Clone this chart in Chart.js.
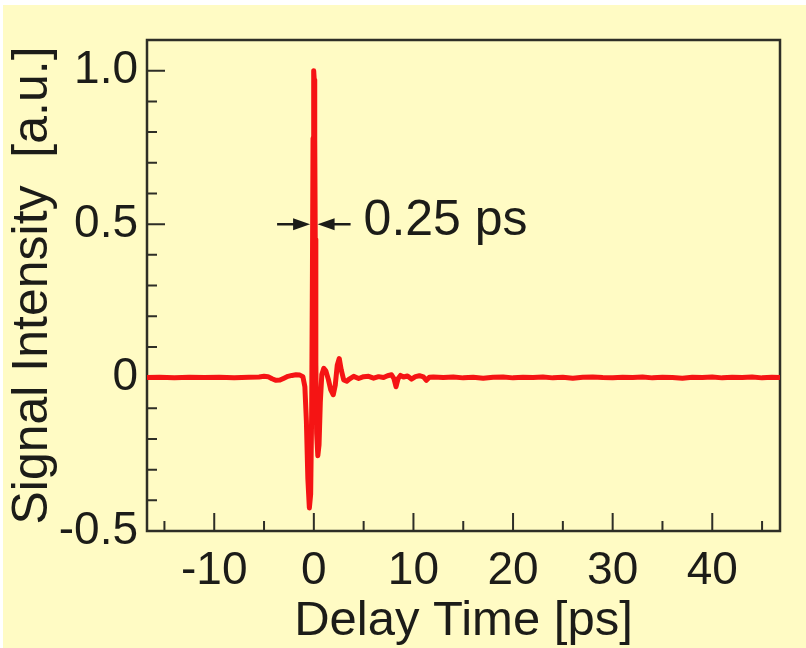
<!DOCTYPE html>
<html>
<head>
<meta charset="utf-8">
<title>Signal Intensity vs Delay Time</title>
<script src="https://cdn.jsdelivr.net/npm/chart.js@4.4.1/dist/chart.umd.min.js"></script>
<style>
    html, body { margin: 0; padding: 0; background: #fff; }
    #wrap { width: 806px; height: 648px; }
</style>
</head>
<body>
<div id="wrap"><canvas id="pulseChart" width="806" height="648"></canvas></div>
<script>
// Measured trace: delay time (ps) and normalised signal (a.u.)
const delayTime = [
    -16.75, -15.5, -14.0, -12.5, -11.0, -9.5, -8.0, -6.5, -5.5, -5.0,
    -4.6, -4.2, -3.8, -3.4, -3.0, -2.6, -2.2, -1.8, -1.4, -1.1,
    -0.9, -0.75, -0.6, -0.45, -0.32, -0.22, -0.14, -0.08, -0.03, 0.0,
    0.04, 0.09, 0.14, 0.2, 0.28, 0.4, 0.52, 0.65, 0.8, 1.0,
    1.2, 1.45, 1.7, 1.95, 2.15, 2.35, 2.55, 2.75, 3.0, 3.3,
    3.6, 4.0, 4.5, 5.0, 5.5, 6.0, 6.5, 7.0, 7.4, 7.8,
    8.05, 8.25, 8.45, 8.7, 9.0, 9.4, 9.8, 10.2, 10.6, 11.0,
    11.3, 11.6, 12, 13, 14, 15, 16, 17, 18, 19,
    20, 21, 22, 23, 24, 25, 26, 27, 28, 29,
    30, 31, 32, 33, 34, 35, 36, 37, 38, 39,
    40, 41, 42, 43, 44, 45, 46, 46.8
];
const signal = [
    0.000, 0.001, -0.001, 0.001, 0.000, 0.001, -0.001, 0.001, 0.002, 0.004,
    0.003, -0.004, -0.009, -0.008, -0.002, 0.004, 0.007, 0.009, 0.008, 0.003,
    -0.03, -0.14, -0.33, -0.425, -0.38, -0.12, 0.35, 0.78, 0.98, 1.0,
    0.97, 0.78, 0.45, 0.05, -0.18, -0.255, -0.22, -0.08, 0.01, 0.03,
    0.022, -0.005, -0.04, -0.056, -0.025, 0.04, 0.062, 0.025, -0.008, -0.012,
    -0.004, 0.004, -0.003, 0.003, 0.004, -0.002, 0.003, 0.000, 0.006, 0.009,
    -0.004, -0.03, -0.004, 0.007, 0.002, 0.005, -0.005, 0.003, 0.006, 0.002,
    -0.009, 0.001, 0.002, 0.000, 0.002, -0.001, 0.001, -0.002, 0.001, 0.002,
    -0.001, 0.001, 0.000, 0.002, -0.001, 0.001, -0.002, 0.001, 0.002, 0.000,
    -0.001, 0.001, 0.000, 0.002, -0.001, 0.001, 0.000, -0.002, 0.001, 0.000,
    0.002, -0.001, 0.001, 0.000, 0.002, -0.001, 0.001, 0.000
];

const xMajorTicks = [-10, 0, 10, 20, 30, 40];
const xMinorTicks = [-15, -5, 5, 15, 25, 35, 45];
const yMajorTicks = [-0.5, 0, 0.5, 1.0];
const yTickLabels = ['-0.5', '0', '0.5', '1.0'];
const yMinorTicks = [-0.4, -0.3, -0.2, -0.1, 0.1, 0.2, 0.3, 0.4, 0.6, 0.7, 0.8, 0.9];

// pulse width marker (FWHM) drawn at half maximum
const pulseCentre = 0;
const pulseHalfMax = 0.5;
const pulseWidth = 0.25;
const pulseLabel = '0.25 ps';

const FONT = "'Liberation Sans', Arial, Helvetica, sans-serif";
const INK = '#1c1c18';
const FRAME = '#2e2e26';
const TRACE_WIDTH = 5;

// Paper background (slight white margin along top/left edge)
const paper = {
    id: 'paper',
    beforeDraw(chart) {
        const ctx = chart.ctx;
        ctx.save();
        ctx.fillStyle = '#ffffff';
        ctx.fillRect(0, 0, chart.width, chart.height);
        ctx.fillStyle = '#fffbc4';
        ctx.fillRect(3, 5, chart.width - 3, chart.height - 5);
        ctx.restore();
    }
};

// Box frame with inward tick marks
const frameTicks = {
    id: 'frameTicks',
    beforeDatasetsDraw(chart) {
        const { ctx, chartArea: a, scales: { x, y } } = chart;
        ctx.save();
        ctx.strokeStyle = FRAME;
        ctx.lineWidth = 2.5;
        ctx.strokeRect(a.left, a.top, a.right - a.left, a.bottom - a.top);

        ctx.lineWidth = 2;
        ctx.beginPath();
        xMajorTicks.forEach(function(v) {
            const px = x.getPixelForValue(v);
            ctx.moveTo(px, a.bottom);
            ctx.lineTo(px, a.bottom - 18);
        });
        xMinorTicks.forEach(function(v) {
            const px = x.getPixelForValue(v);
            ctx.moveTo(px, a.bottom);
            ctx.lineTo(px, a.bottom - 10);
        });
        yMajorTicks.forEach(function(v) {
            if (v <= y.min) return;
            const py = y.getPixelForValue(v);
            ctx.moveTo(a.left, py);
            ctx.lineTo(a.left + 18, py);
        });
        yMinorTicks.forEach(function(v) {
            const py = y.getPixelForValue(v);
            ctx.moveTo(a.left, py);
            ctx.lineTo(a.left + 10, py);
        });
        ctx.stroke();
        ctx.restore();
    }
};

// Double arrow marking the pulse width, plus its label
const widthMarker = {
    id: 'widthMarker',
    afterDatasetsDraw(chart) {
        const { ctx, scales: { x, y } } = chart;
        const py = y.getPixelForValue(pulseHalfMax);
        // arrow tips touch the outer edges of the stroked trace
        const leftTip = x.getPixelForValue(pulseCentre - pulseWidth / 2) - TRACE_WIDTH / 2;
        const rightTip = x.getPixelForValue(pulseCentre + pulseWidth / 2) + TRACE_WIDTH / 2;
        const shaft = 33, head = 17, half = 6;

        ctx.save();
        ctx.strokeStyle = INK;
        ctx.fillStyle = INK;
        ctx.lineWidth = 2.5;

        ctx.beginPath();
        ctx.moveTo(leftTip - shaft, py);
        ctx.lineTo(leftTip - head + 2, py);
        ctx.moveTo(rightTip + head - 2, py);
        ctx.lineTo(rightTip + shaft, py);
        ctx.stroke();

        ctx.beginPath();
        ctx.moveTo(leftTip, py);
        ctx.lineTo(leftTip - head, py - half);
        ctx.lineTo(leftTip - head, py + half);
        ctx.closePath();
        ctx.moveTo(rightTip, py);
        ctx.lineTo(rightTip + head, py - half);
        ctx.lineTo(rightTip + head, py + half);
        ctx.closePath();
        ctx.fill();

        ctx.font = '50px ' + FONT;
        ctx.textAlign = 'left';
        ctx.textBaseline = 'alphabetic';
        ctx.fillText(pulseLabel, rightTip + shaft + 13, py + 11);
        ctx.restore();
    }
};

const points = delayTime.map(function(t, i) {
    return { x: t, y: signal[i] };
});

const ctx = document.getElementById('pulseChart').getContext('2d');
const pulseChart = new Chart(ctx, {
    type: 'line',
    data: {
        datasets: [{
            data: points,
            borderColor: '#f51414',
            borderWidth: TRACE_WIDTH,
            borderJoinStyle: 'round',
            pointRadius: 0,
            tension: 0,
            fill: false
        }]
    },
    options: {
        responsive: false,
        animation: false,
        layout: {
            padding: { top: 40, right: 26, left: 0, bottom: 0 }
        },
        plugins: {
            legend: { display: false },
            tooltip: { enabled: false }
        },
        scales: {
            x: {
                type: 'linear',
                min: -16.75,
                max: 46.8,
                grid: { display: false, drawTicks: false },
                border: { display: false },
                afterBuildTicks: function(scale) {
                    scale.ticks = xMajorTicks.map(function(v) { return { value: v }; });
                },
                afterFit: function(scale) {
                    scale.height = 117;
                },
                ticks: {
                    padding: 13,
                    color: INK,
                    maxRotation: 0,
                    autoSkip: false,
                    font: { family: FONT, size: 46 },
                    callback: function(value) { return String(value); }
                },
                title: {
                    display: true,
                    text: 'Delay Time [ps]',
                    color: INK,
                    font: { family: FONT, size: 49, lineHeight: 1.0 },
                    padding: { top: 0, bottom: 2 }
                }
            },
            y: {
                min: -0.5,
                max: 1.1,
                grid: { display: false, drawTicks: false },
                border: { display: false },
                afterBuildTicks: function(scale) {
                    scale.ticks = yMajorTicks.map(function(v) { return { value: v }; });
                },
                afterFit: function(scale) {
                    scale.width = 147;
                },
                ticks: {
                    padding: 9,
                    color: INK,
                    autoSkip: false,
                    font: { family: FONT, size: 46 },
                    callback: function(value) {
                        return yTickLabels[yMajorTicks.indexOf(value)];
                    }
                },
                title: {
                    display: true,
                    text: 'Signal Intensity  [a.u.]',
                    color: INK,
                    font: { family: FONT, size: 50, lineHeight: 1.0 },
                    padding: { top: 8, bottom: 0 }
                }
            }
        }
    },
    plugins: [paper, frameTicks, widthMarker]
});
</script>
</body>
</html>
